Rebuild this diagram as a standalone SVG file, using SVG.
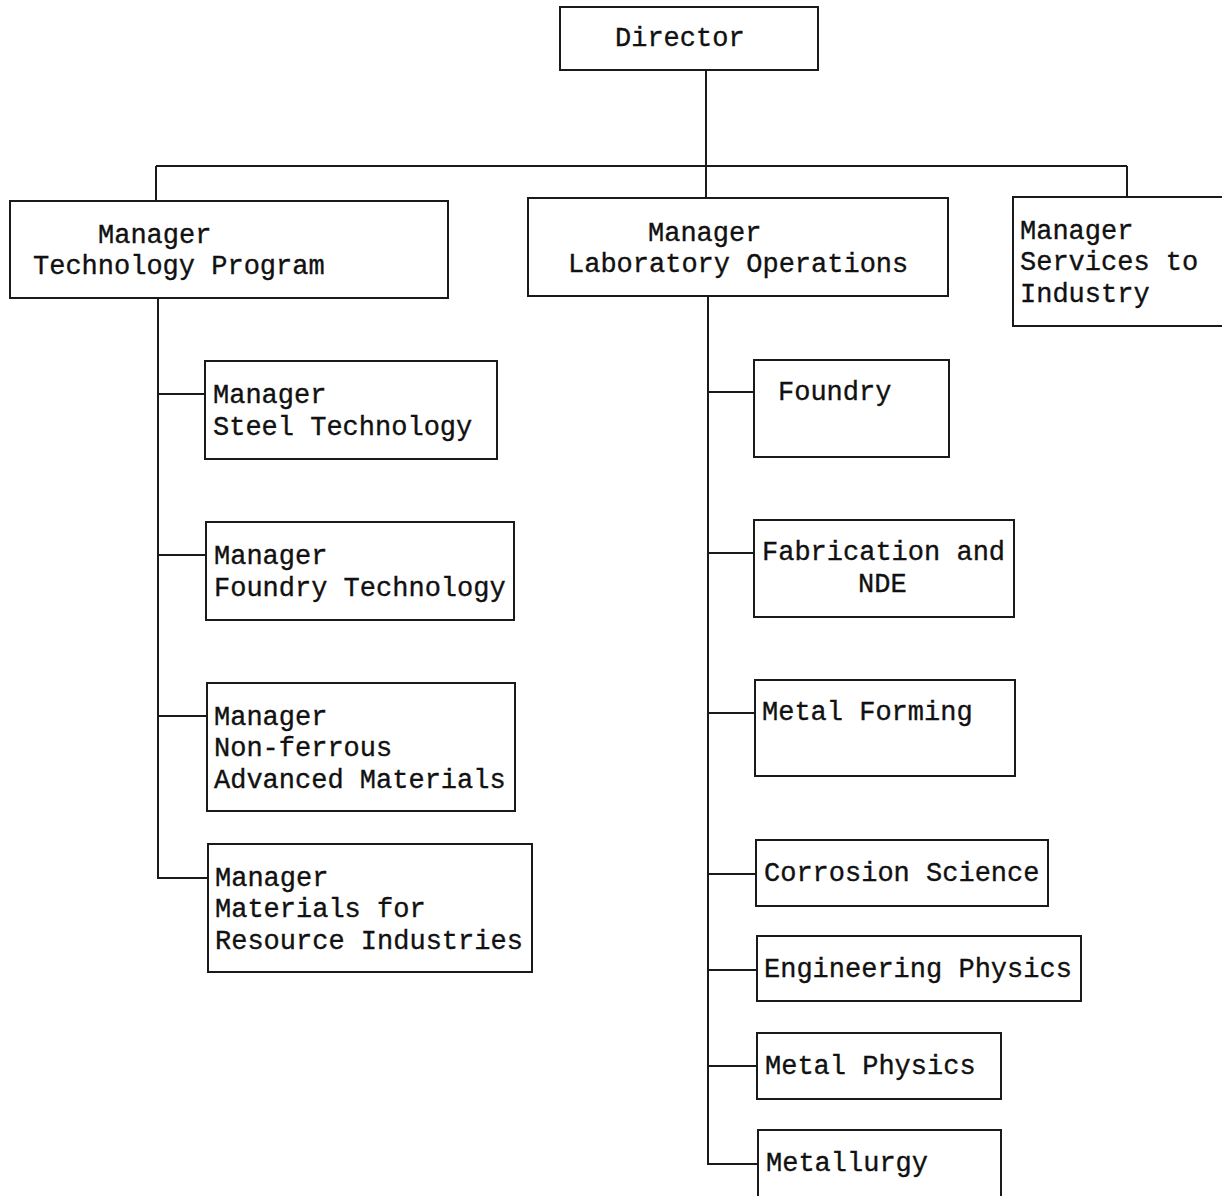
<svg xmlns="http://www.w3.org/2000/svg" width="1222" height="1196" viewBox="0 0 1222 1196">
  <style>
    .box { fill: #ffffff; stroke: #1a1a1a; stroke-width: 2; }
    .wire { fill: none; stroke: #1a1a1a; stroke-width: 2; }
    .lbl { font-family: "Liberation Mono", "DejaVu Sans Mono", monospace; font-size: 27px; fill: #111111; stroke: #111111; stroke-width: 0.35; }
  </style>
  <rect width="1222" height="1196" fill="#ffffff"/>

  <!-- connectors -->
  <g id="connectors">
    <path class="wire" d="M706 70 V166 M156 166 H1127 M156 166 V201 M706 166 V198 M1127 166 V197"/>
    <!-- Technology Program spine -->
    <path class="wire" d="M158 298 V878 H208 M158 394 H205 M158 555 H206 M158 716 H207"/>
    <!-- Laboratory Operations spine -->
    <path class="wire" d="M708 296 V1164 H758 M708 392 H754 M708 553 H754 M708 713 H755 M708 874 H756 M708 970 H757 M708 1066 H757"/>
  </g>

  <g id="director">
    <rect class="box" x="560" y="7" width="258" height="63"/>
    <text class="lbl" x="615" y="46">Director</text>
  </g>

  <g id="mgr-technology-program">
    <rect class="box" x="10" y="201" width="438" height="97"/>
    <text class="lbl" x="98" y="243">Manager</text>
    <text class="lbl" x="33" y="274">Technology Program</text>
  </g>

  <g id="mgr-laboratory-operations">
    <rect class="box" x="528" y="198" width="420" height="98"/>
    <text class="lbl" x="648" y="241">Manager</text>
    <text class="lbl" x="568" y="272">Laboratory Operations</text>
  </g>

  <g id="mgr-services-to-industry">
    <rect class="box" x="1013" y="197" width="220" height="129"/>
    <text class="lbl" x="1020" y="239">Manager</text>
    <text class="lbl" x="1020" y="270">Services to</text>
    <text class="lbl" x="1020" y="302">Industry</text>
  </g>

  <g id="mgr-steel-technology">
    <rect class="box" x="205" y="361" width="292" height="98"/>
    <text class="lbl" x="213" y="403">Manager</text>
    <text class="lbl" x="213" y="435">Steel Technology</text>
  </g>

  <g id="mgr-foundry-technology">
    <rect class="box" x="206" y="522" width="308" height="98"/>
    <text class="lbl" x="214" y="564">Manager</text>
    <text class="lbl" x="214" y="596">Foundry Technology</text>
  </g>

  <g id="mgr-non-ferrous">
    <rect class="box" x="207" y="683" width="308" height="128"/>
    <text class="lbl" x="214" y="725">Manager</text>
    <text class="lbl" x="214" y="756">Non-ferrous</text>
    <text class="lbl" x="214" y="788">Advanced Materials</text>
  </g>

  <g id="mgr-resource-industries">
    <rect class="box" x="208" y="844" width="324" height="128"/>
    <text class="lbl" x="215" y="886">Manager</text>
    <text class="lbl" x="215" y="917">Materials for</text>
    <text class="lbl" x="215" y="949">Resource Industries</text>
  </g>

  <g id="foundry">
    <rect class="box" x="754" y="360" width="195" height="97"/>
    <text class="lbl" x="778" y="400">Foundry</text>
  </g>

  <g id="fabrication-nde">
    <rect class="box" x="754" y="520" width="260" height="97"/>
    <text class="lbl" x="762" y="560">Fabrication and</text>
    <text class="lbl" x="858" y="592">NDE</text>
  </g>

  <g id="metal-forming">
    <rect class="box" x="755" y="680" width="260" height="96"/>
    <text class="lbl" x="762" y="720">Metal Forming</text>
  </g>

  <g id="corrosion-science">
    <rect class="box" x="756" y="840" width="292" height="66"/>
    <text class="lbl" x="764" y="881">Corrosion Science</text>
  </g>

  <g id="engineering-physics">
    <rect class="box" x="757" y="936" width="324" height="65"/>
    <text class="lbl" x="764" y="977">Engineering Physics</text>
  </g>

  <g id="metal-physics">
    <rect class="box" x="757" y="1033" width="244" height="66"/>
    <text class="lbl" x="765" y="1074">Metal Physics</text>
  </g>

  <g id="metallurgy">
    <rect class="box" x="758" y="1130" width="243" height="70"/>
    <text class="lbl" x="766" y="1171">Metallurgy</text>
  </g>
</svg>
